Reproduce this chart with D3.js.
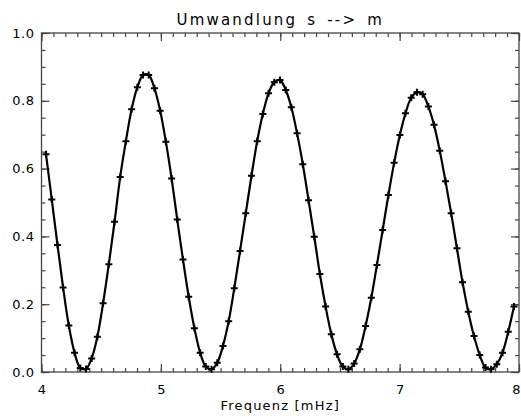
<!DOCTYPE html>
<html>
<head>
<meta charset="utf-8">
<script src="https://cdn.jsdelivr.net/npm/d3@7"></script>
<style>
  body { margin: 0; background: #fff; }
  text { font-family: "DejaVu Sans", "Liberation Sans", sans-serif; fill: #000; }
</style>
</head>
<body>
<script>
// Frequenzen (mHz) und Umwandlungswerte
const freq = [
    4.038, 4.086, 4.134, 4.181, 4.229, 4.277, 4.325, 4.373, 4.420, 4.468,
    4.516, 4.564, 4.612, 4.659, 4.707, 4.755, 4.803, 4.851, 4.898, 4.946,
    4.994, 5.042, 5.090, 5.137, 5.185, 5.233, 5.281, 5.329, 5.376, 5.424,
    5.472, 5.520, 5.568, 5.615, 5.663, 5.711, 5.759, 5.807, 5.854, 5.902,
    5.950, 5.998, 6.046, 6.093, 6.141, 6.189, 6.237, 6.285, 6.332, 6.380,
    6.428, 6.476, 6.524, 6.571, 6.619, 6.667, 6.715, 6.763, 6.810, 6.858,
    6.906, 6.954, 7.002, 7.049, 7.097, 7.145, 7.193, 7.241, 7.288, 7.336,
    7.384, 7.432, 7.480, 7.527, 7.575, 7.623, 7.671, 7.719, 7.766, 7.814,
    7.862, 7.910, 7.958
]
const umwandlung = [
    0.642, 0.509, 0.375, 0.249, 0.137, 0.057, 0.012, 0.009, 0.040, 0.104,
    0.203, 0.318, 0.443, 0.575, 0.681, 0.775, 0.840, 0.876, 0.876, 0.837,
    0.771, 0.679, 0.571, 0.450, 0.332, 0.222, 0.129, 0.057, 0.016, 0.008,
    0.027, 0.077, 0.150, 0.247, 0.357, 0.468, 0.579, 0.681, 0.761, 0.822,
    0.855, 0.861, 0.832, 0.781, 0.704, 0.613, 0.507, 0.399, 0.289, 0.193,
    0.111, 0.052, 0.016, 0.008, 0.025, 0.067, 0.136, 0.219, 0.316, 0.419,
    0.522, 0.617, 0.699, 0.763, 0.809, 0.825, 0.819, 0.783, 0.729, 0.653,
    0.563, 0.468, 0.365, 0.265, 0.178, 0.106, 0.050, 0.013, 0.008, 0.023,
    0.057, 0.119, 0.193
]
const xTicks = [4, 5, 6, 7, 8]
const yTicks = [0, 0.2, 0.4, 0.6, 0.8, 1.0]
const title = "Umwandlung s --> m"
const xTitle = "Frequenz [mHz]"

const width = 521, height = 417
const m = { left: 41.5, right: 519, top: 33, bottom: 372 }

const svg = d3.select("body").append("svg")
    .attr("width", width)
    .attr("height", height)

const x = d3.scaleLinear().domain([4, 8]).range([m.left, m.right])
const y = d3.scaleLinear().domain([0, 1]).range([m.bottom, m.top])

const xMinor = d3.range(4, 8.0001, 0.1)
const yMinor = d3.range(0, 1.0001, 0.05)
const axisColor = "#444"

// Achsen: Haupt- und Nebenstriche nach innen, auf allen vier Seiten
function drawAxis(axis, translate, showLabels) {
    const g = svg.append("g").attr("transform", translate).call(axis)
    g.select(".domain").remove()
    g.selectAll("line").attr("stroke", axisColor).attr("stroke-width", 1.2)
    if (!showLabels) g.selectAll("text").remove()
    return g
}

drawAxis(d3.axisBottom(x).tickValues(xMinor).tickSize(-4).tickFormat(""), `translate(0,${m.bottom})`, false)
drawAxis(d3.axisTop(x).tickValues(xMinor).tickSize(-4).tickFormat(""), `translate(0,${m.top})`, false)
drawAxis(d3.axisLeft(y).tickValues(yMinor).tickSize(-4).tickFormat(""), `translate(${m.left},0)`, false)
drawAxis(d3.axisRight(y).tickValues(yMinor).tickSize(-4).tickFormat(""), `translate(${m.right},0)`, false)

const xb = drawAxis(d3.axisBottom(x).tickValues(xTicks).tickSize(-8).tickPadding(13).tickFormat(d3.format("d")), `translate(0,${m.bottom})`, true)
xb.selectAll("text").style("font-size", "13px")
// die "8" am rechten Rand etwas hereinschieben
xb.selectAll("text").filter(d => d === 8).attr("dx", "-3")
drawAxis(d3.axisTop(x).tickValues(xTicks).tickSize(-8), `translate(0,${m.top})`, false)
const yl = drawAxis(d3.axisLeft(y).tickValues(yTicks).tickSize(-8).tickPadding(7).tickFormat(d3.format(".1f")), `translate(${m.left},0)`, true)
yl.selectAll("text").style("font-size", "13px").attr("letter-spacing", "0.5px")
drawAxis(d3.axisRight(y).tickValues(yTicks).tickSize(-8), `translate(${m.right},0)`, false)

svg.append("rect")
    .attr("x", m.left).attr("y", m.top)
    .attr("width", m.right - m.left).attr("height", m.bottom - m.top)
    .attr("fill", "none")
    .attr("stroke", axisColor)
    .attr("stroke-width", 1.3)

// Titel und Achsenbeschriftung
svg.append("text")
    .attr("x", (m.left + m.right) / 2).attr("y", 25)
    .attr("text-anchor", "middle")
    .attr("letter-spacing", "2.2px")
    .attr("word-spacing", "3px")
    .style("font-size", "15px")
    .text(title)

svg.append("text")
    .attr("x", (m.left + m.right) / 2).attr("y", 410)
    .attr("text-anchor", "middle")
    .attr("letter-spacing", "1.2px")
    .style("font-size", "13px")
    .text(xTitle)

// Kurve
const pts = freq.map((f, i) => [f, umwandlung[i]])
const line = d3.line()
    .x(d => x(d[0]))
    .y(d => y(d[1]))
    .curve(d3.curveCatmullRom)

svg.append("path")
    .datum(pts)
    .attr("d", line)
    .attr("fill", "none")
    .attr("stroke", "#000")
    .attr("stroke-width", 2.2)

// Plus-Symbole an den Datenpunkten
svg.selectAll(".plus")
    .data(pts)
    .enter()
    .append("path")
    .attr("class", "plus")
    .attr("transform", d => `translate(${x(d[0])},${y(d[1])})`)
    .attr("d", "M-3.5,0H3.5M0,-3.5V3.5")
    .attr("stroke", "#000")
    .attr("stroke-width", 2)
</script>
</body>
</html>
